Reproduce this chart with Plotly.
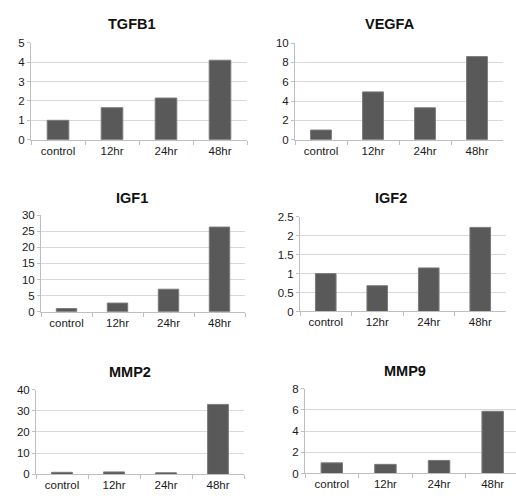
import plotly.graph_objects as go

categories = ["control", "12hr", "24hr", "48hr"]
tgfb1 = [1.0, 1.65, 2.15, 4.1]
vegfa = [1.0, 4.95, 3.3, 8.6]
igf1 = [1.0, 2.7, 7.0, 26.3]
igf2 = [1.0, 0.68, 1.15, 2.22]
mmp2 = [1.0, 1.2, 0.8, 33.0]
mmp9 = [1.0, 0.86, 1.23, 5.86]

titles = ["TGFB1", "VEGFA", "IGF1", "IGF2", "MMP2", "MMP9"]
series = [tgfb1, vegfa, igf1, igf2, mmp2, mmp9]
yranges = [(0, 5, 1), (0, 10, 2), (0, 30, 5), (0, 2.5, 0.5), (0, 40, 10), (0, 8, 2)]

W, H = 516, 499
# plot-area pixel boxes: x0, x1, ytop, ybottom, right-hand x range end (last panel runs past the edge)
boxes = [
    (31, 247, 37.7, 137, 3.5),
    (295, 503, 38, 137, 3.5),
    (41, 245, 214.3, 313.3, 3.5),
    (300, 506, 216, 313, 3.5),
    (36, 244, 393, 480, 3.5),
    (305, 516, 392, 479, 3.435),
]
title_pos = [(132, 18), (390, 18), (132, 197), (391, 197), (130, 375), (405, 374)]

fig = go.Figure()
font_family = "Liberation Sans, Arial, sans-serif"
layout = dict(
    width=W, height=H, margin=dict(l=0, r=0, t=0, b=0),
    paper_bgcolor="white", plot_bgcolor="white", showlegend=False,
    font=dict(family=font_family, size=11.5, color="#1a1a1a"),
    annotations=[],
)
for i, (vals, (y0, y1, dt), box, title, tp) in enumerate(zip(series, yranges, boxes, titles, title_pos)):
    n = i + 1
    xa = "x" if n == 1 else f"x{n}"
    ya = "y" if n == 1 else f"y{n}"
    fig.add_trace(go.Bar(
        x=categories, y=vals, xaxis=xa, yaxis=ya, width=0.4,
        marker=dict(color="#595959", line=dict(color="#7a7a7a", width=1)),
        hoverinfo="skip",
    ))
    x0, x1, yt, yb, xr = box
    layout[f"xaxis{n}"] = dict(
        domain=[x0 / W, x1 / W], anchor=ya, type="category", range=[-0.5, xr],
        showline=True, linecolor="#bfbfbf", linewidth=1,
        ticks="outside", tickson="boundaries", ticklen=4, tickcolor="#bfbfbf",
        showgrid=False, tickfont=dict(size=11.5, color="#1a1a1a"), fixedrange=True,
    )
    layout[f"yaxis{n}"] = dict(
        domain=[1 - yb / H, 1 - yt / H], anchor=xa, range=[y0, y1], dtick=dt,
        showline=True, linecolor="#bfbfbf", linewidth=1,
        ticks="outside", ticklen=3, tickcolor="#bfbfbf",
        showgrid=True, gridcolor="#d9d9d9", gridwidth=1,
        zeroline=False, tickfont=dict(size=11.5, color="#1a1a1a"), fixedrange=True,
    )
    layout["annotations"].append(dict(
        text=f"<b>{title}</b>", x=tp[0] / W, y=1 - tp[1] / H, xref="paper", yref="paper",
        xanchor="center", yanchor="middle", showarrow=False,
        font=dict(size=14.5, color="#111111", family=font_family),
    ))

fig.update_layout(**layout)
fig.write_html("out.html", config={"displayModeBar": False},
               post_script="document.body.style.margin='0px';document.body.style.overflow='hidden';")
